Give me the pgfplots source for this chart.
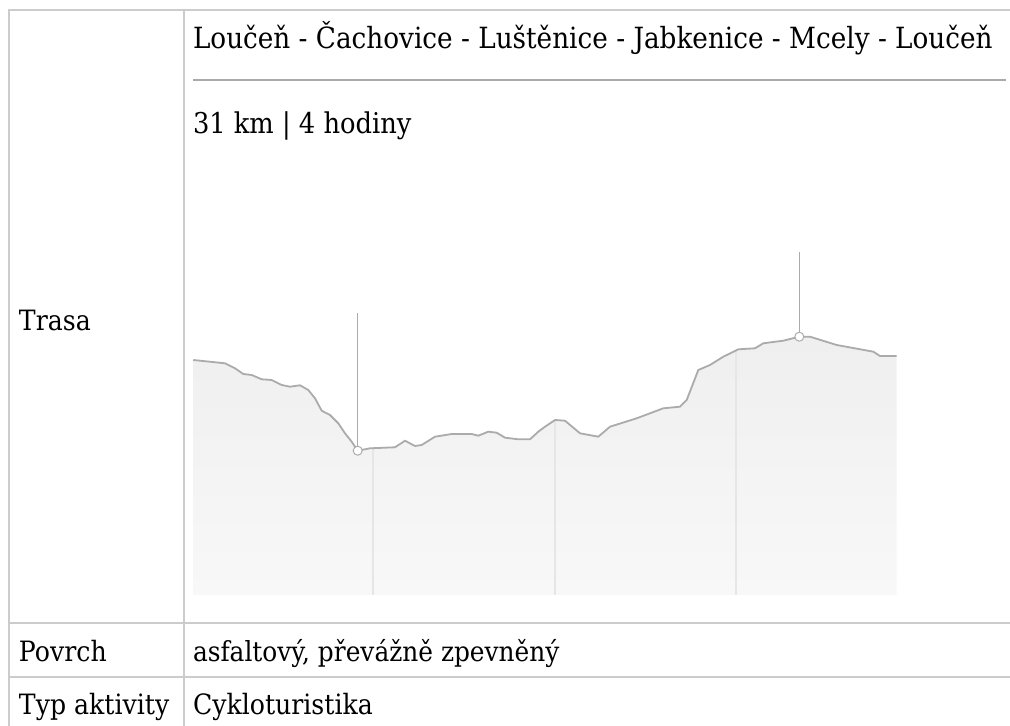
\documentclass[border=0pt]{standalone}
\usepackage{fontspec}
\setmainfont{DejaVu Serif}[FakeStretch=0.9]
\usepackage{pgfplots}
\pgfplotsset{compat=1.18}
\definecolor{tline}{HTML}{CCCCCC}
\definecolor{rule}{HTML}{AAAAAA}
\definecolor{prof}{HTML}{ABABAB}
\definecolor{ftop}{HTML}{EFEFEF}
\definecolor{fbot}{HTML}{F8F8F8}
\definecolor{gridc}{HTML}{E6E6E6}
\begin{document}
\begin{tikzpicture}[x=1pt,y=1pt]
\useasboundingbox (0,0) rectangle (1010,726);
\fill[white] (0,0) rectangle (1010,726);
% table
\draw[tline,line width=2pt] (9,716) -- (1010,716);
\draw[tline,line width=2pt] (9,717) -- (9,0);
\draw[tline,line width=2pt] (184,716) -- (184,0);
\draw[tline,line width=2pt] (9,103) -- (1010,103);
\draw[tline,line width=2pt] (9,49) -- (1010,49);
\draw[rule,line width=1.2pt] (193,646) -- (1006,646);
\begin{scope}[every node/.style={inner sep=0pt,outer sep=0pt,anchor=base west,font=\fontsize{28}{32}\selectfont}]
\node[font=\fontsize{29.2}{33}\selectfont] at (193,677) {Loučeň - Čachovice - Luštěnice - Jabkenice - Mcely - Loučeň};
\node[font=\fontsize{28.6}{33}\selectfont] at (193,592.5) {31 km | 4 hodiny};
\node at (19,395) {Trasa};
\node at (19,64.5) {Povrch};
\node[font=\fontsize{27.6}{32}\selectfont] at (193,64.5) {asfaltový, převážně zpevněný};
\node at (19,12) {Typ aktivity};
\node at (193,12) {Cykloturistika};
\end{scope}
\begin{axis}[at={(193,131)},anchor=south west,x=1pt,y=1pt,
  xmin=193,xmax=896.7,ymin=131,ymax=474,axis lines=none,
  clip=false]
\addplot[draw=none,top color=ftop,bottom color=fbot] coordinates {
(193.3,366)(225,362.7)(235,357.7)(243.3,352)(251.7,351)(261.7,346.7)(271.7,346)
(281.7,341)(290,339.3)(300,340.7)(308.3,336)(315,327.7)(321.7,315.3)(330,311)
(338.3,302.7)(345,292.7)(351.7,284.3)(357.7,275.3)(370,277.7)(395,278.7)(405,285.3)
(415,280)(421.7,281)(435,289.3)(451.7,292)(471.7,292)(478.3,290.3)(488.3,294.3)
(496.7,293.3)(505,288.3)(518.3,286.7)(530,286.7)(538.3,294.3)(545,299.3)(555,306)
(565,305.3)(580,292.7)(598.3,289.3)(610,299.3)(636.7,307.7)(663.3,317.7)(680,319.3)
(686.7,326)(698.3,356)(710,361)(723.3,369.3)(738.3,376.7)(755,377.7)(763.3,382.7)
(783.3,385.3)(799.3,389.3)(810,389.3)(836.7,381)(873.3,374.3)(880,370)(896.7,370)
} -- (896.7,131) -- (193.3,131) -- cycle;
\addplot[gridc,line width=1.5pt,ycomb,mark=none] coordinates {(373,277.5)(555,305)(736,375.5)};
\addplot[prof,line width=1.8pt,line join=round] coordinates {
(193.3,366)(225,362.7)(235,357.7)(243.3,352)(251.7,351)(261.7,346.7)(271.7,346)
(281.7,341)(290,339.3)(300,340.7)(308.3,336)(315,327.7)(321.7,315.3)(330,311)
(338.3,302.7)(345,292.7)(351.7,284.3)(357.7,275.3)(370,277.7)(395,278.7)(405,285.3)
(415,280)(421.7,281)(435,289.3)(451.7,292)(471.7,292)(478.3,290.3)(488.3,294.3)
(496.7,293.3)(505,288.3)(518.3,286.7)(530,286.7)(538.3,294.3)(545,299.3)(555,306)
(565,305.3)(580,292.7)(598.3,289.3)(610,299.3)(636.7,307.7)(663.3,317.7)(680,319.3)
(686.7,326)(698.3,356)(710,361)(723.3,369.3)(738.3,376.7)(755,377.7)(763.3,382.7)
(783.3,385.3)(799.3,389.3)(810,389.3)(836.7,381)(873.3,374.3)(880,370)(896.7,370)
};
\addplot[prof,line width=1.5pt] coordinates {(357.7,275.3)(357.7,413)};
\addplot[prof,line width=1.5pt] coordinates {(799.3,389.3)(799.3,474)};
\addplot[only marks,mark=*,mark size=4.5pt,mark options={fill=white,draw=prof,line width=1pt}] coordinates {(357.7,275.3)(799.3,389.3)};
\end{axis}
\end{tikzpicture}
\end{document}
